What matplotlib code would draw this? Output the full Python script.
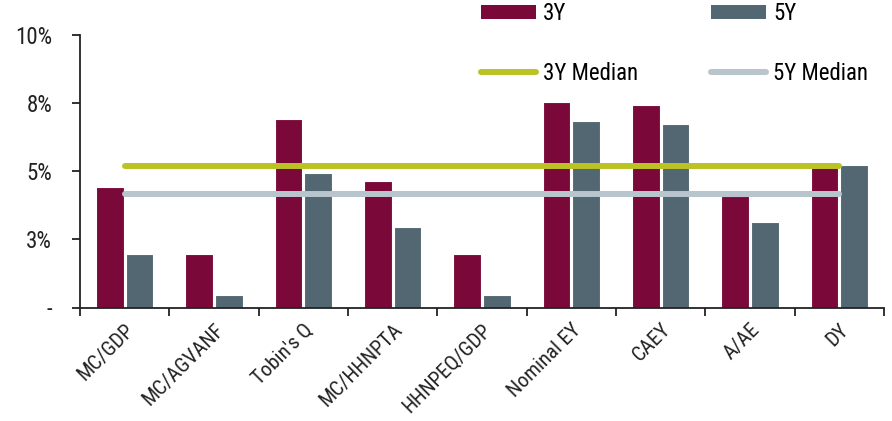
import numpy as np
import matplotlib
matplotlib.use("Agg")
from matplotlib import pyplot as plt
from matplotlib.patches import Patch
from matplotlib.lines import Line2D

plt.rcParams['font.family'] = ['Roboto Condensed', 'Archivo Narrow', 'Barlow Semi Condensed', 'DejaVu Sans']

categories = ["MC/GDP", "MC/AGVANF", "Tobin's Q", "MC/HHNPTA", "HHNPEQ/GDP",
              "Nominal EY", "CAEY", "A/AE", "DY"]
y3 = [4.43, 1.95, 6.93, 4.64, 1.95, 7.53, 7.43, 4.1, 5.34]
y5 = [1.95, 0.45, 4.94, 2.95, 0.45, 6.83, 6.73, 3.14, 5.24]
median3 = 5.18
median5 = 4.18
yticks = [0, 2.5, 5, 7.5, 10]
ytick_labels = ["-", "3%", "5%", "8%", "10%"]

c3 = "#7a0839"
c5 = "#526771"
cm3 = "#bbc224"
cm5 = "#b8c5cc"

fig = plt.figure(figsize=(8.92, 4.21), dpi=100)
ax = fig.add_axes([80/892, 1 - 307.5/421, 804/892, 272.5/421])

x = np.arange(len(categories))
w = 0.31
ax.bar(x - w/2 - 0.012, y3, w, color=c3, edgecolor="white", linewidth=0.8, zorder=2)
ax.bar(x + w/2 + 0.012, y5, w, color=c5, edgecolor="white", linewidth=0.8, zorder=2)

ax.plot([x[0], x[-1]], [median3, median3], color=cm3, lw=4.3,
        solid_capstyle="round", zorder=3)
ax.plot([x[0], x[-1]], [median5, median5], color=cm5, lw=4.3,
        solid_capstyle="round", zorder=3)

ax.set_xlim(-0.5, len(categories) - 0.5)
ax.set_ylim(0, 10)
ax.set_yticks(yticks)
ax.set_yticklabels(ytick_labels, fontsize=16.5, color="#222222")
ax.tick_params(axis="y", length=6, width=1.3, color="#222222", pad=14)

# category boundaries carry the tick marks, labels sit at centres
ax.set_xticks(np.arange(-0.5, len(categories), 1.0))
ax.set_xticklabels([])
ax.tick_params(axis="x", which="major", length=6, width=1.3, color="#222222")
ax.set_xticks(x, minor=True)
ax.set_xticklabels(categories, minor=True, rotation=45, ha="right",
                   rotation_mode="anchor", fontsize=15, color="#222222")
ax.tick_params(axis="x", which="minor", length=0, pad=9)

for s in ["top", "right"]:
    ax.spines[s].set_visible(False)
for s in ["left", "bottom"]:
    ax.spines[s].set_color("#222222")
    ax.spines[s].set_linewidth(1.3)

handles = [
    Patch(facecolor=c3, label="3Y"),
    Line2D([0], [0], color=cm3, lw=4.3, solid_capstyle="round", label="3Y Median"),
    Patch(facecolor=c5, label="5Y"),
    Line2D([0], [0], color=cm5, lw=4.3, solid_capstyle="round", label="5Y Median"),
]
fig.legend(handles=handles, ncol=2, loc="center left",
           bbox_to_anchor=(481/892, 1 - 43.5/421), frameon=False,
           fontsize=16.5, handlelength=2.4, handleheight=0.5, handletextpad=0.3,
           labelspacing=1.6, columnspacing=3.2, borderpad=0, borderaxespad=0)

fig.savefig("out.png", dpi=100)
